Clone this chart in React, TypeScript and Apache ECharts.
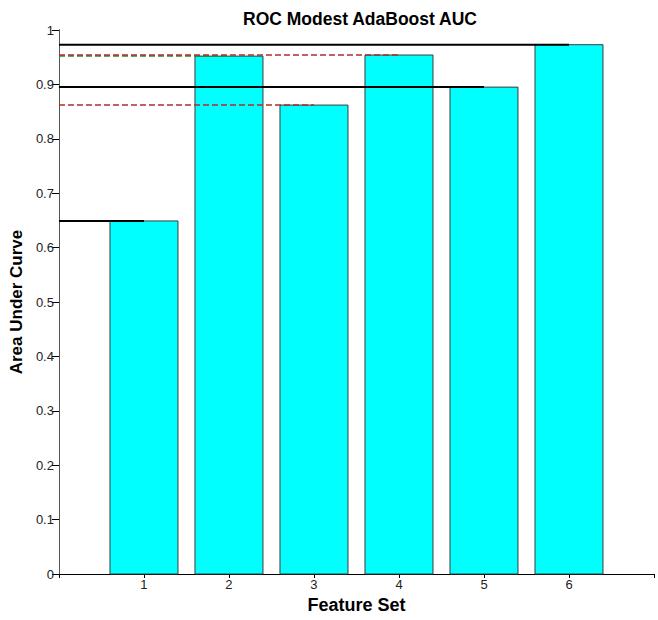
import React, { useEffect, useRef } from "react";
import * as echarts from "echarts";

const featureSets = [1, 2, 3, 4, 5, 6];
const aucValues = [0.649, 0.952, 0.862, 0.954, 0.895, 0.973];
// reference line style for each feature set
const refLineKinds = ["black", "green", "red", "red", "black", "black"];
const yTicks = [0, 0.1, 0.2, 0.3, 0.4, 0.5, 0.6, 0.7, 0.8, 0.9, 1];

const FONT = "'Liberation Sans', Arial, Helvetica, sans-serif";

export default function App() {
  const ref = useRef<HTMLDivElement>(null);
  useEffect(() => {
    if (!ref.current) return;
    const chart = echarts.init(ref.current, undefined, { renderer: "svg" });

    const lineStyles: Record<string, any> = {
      black: { color: "#000000", width: 2, type: "solid" },
      red: { color: "#b22a2a", width: 1.5, type: [6, 3] },
      green: { color: "#2e8a2e", width: 1.5, type: [6, 3] },
    };

    const refSeries = featureSets.map((fs, i) => ({
      type: "line",
      data: [
        [0, aucValues[i]],
        [fs, aucValues[i]],
      ],
      symbol: "none",
      silent: true,
      z: i === 1 ? 4 : 5,
      lineStyle: lineStyles[refLineKinds[i]],
    }));

    const mkLine = (c: string) => ({ show: true, lineStyle: { color: c, width: 1 } });

    chart.setOption({
      animation: false,
      backgroundColor: "#ffffff",
      title: {
        text: "ROC Modest AdaBoost AUC",
        left: 355,
        textAlign: "center",
        top: 5,
        textStyle: { fontFamily: FONT, fontWeight: "bold", fontSize: 17.5, color: "#000" },
      },
      grid: { left: 57, right: 4, top: 30, bottom: 46, containLabel: false },
      xAxis: [
        {
          type: "value",
          min: 0,
          max: 7,
          interval: 1,
          position: "bottom",
          name: "Feature Set",
          nameLocation: "middle",
          nameGap: 21,
          nameTextStyle: { fontFamily: FONT, fontWeight: "bold", fontSize: 18, color: "#000" },
          axisLine: mkLine("#000"),
          axisTick: { show: false },
          splitLine: { show: false },
          axisLabel: {
            fontFamily: FONT,
            fontSize: 13,
            color: "#222",
            margin: 4,
            formatter: (v: number) => (featureSets.includes(v) ? String(v) : ""),
          },
        },
        {
          type: "value",
          min: 0,
          max: 7,
          interval: 1,
          position: "top",
          axisLine: mkLine("#000"),
          axisTick: { show: true, inside: true, length: 4, lineStyle: { color: "#000" } },
          splitLine: { show: false },
          axisLabel: { show: false },
        },
      ],
      yAxis: [
        {
          type: "value",
          min: 0,
          max: 1,
          interval: 0.1,
          position: "left",
          name: "Area Under Curve",
          nameLocation: "middle",
          nameGap: 28,
          nameTextStyle: { fontFamily: FONT, fontWeight: "bold", fontSize: 17, color: "#000" },
          axisLine: mkLine("#000"),
          axisTick: { show: true, inside: false, length: 4, lineStyle: { color: "#000" } },
          splitLine: { show: false },
          axisLabel: {
            fontFamily: FONT,
            fontSize: 13,
            color: "#222",
            margin: 5,
            formatter: (v: number) => {
              const t = yTicks.find((y) => Math.abs(y - v) < 1e-6);
              return t === undefined ? "" : String(t);
            },
          },
        },
        {
          type: "value",
          min: 0,
          max: 1,
          interval: 0.1,
          position: "right",
          axisLine: mkLine("#555"),
          axisTick: { show: true, inside: true, length: 7, lineStyle: { color: "#000" } },
          splitLine: { show: false },
          axisLabel: { show: false },
        },
      ],
      series: [
        {
          type: "custom",
          xAxisIndex: 0,
          yAxisIndex: 0,
          z: 2,
          data: featureSets.map((fs, i) => [fs, aucValues[i]]),
          encode: { x: 0, y: 1 },
          renderItem: (params: any, api: any) => {
            const x = api.value(0);
            const y = api.value(1);
            const p0 = api.coord([x - 0.4, y]);
            const p1 = api.coord([x + 0.4, 0]);
            return {
              type: "rect",
              shape: { x: p0[0], y: p0[1], width: p1[0] - p0[0], height: p1[1] - p0[1] },
              style: { fill: "#00ffff", stroke: "#3c3c3c", lineWidth: 1 },
            };
          },
        },
        ...refSeries,
      ],
    });
    return () => chart.dispose();
  }, []);

  return (
    <div
      ref={ref}
      style={{ position: "fixed", left: 0, top: 0, width: 658, height: 620, background: "#fff" }}
    />
  );
}
